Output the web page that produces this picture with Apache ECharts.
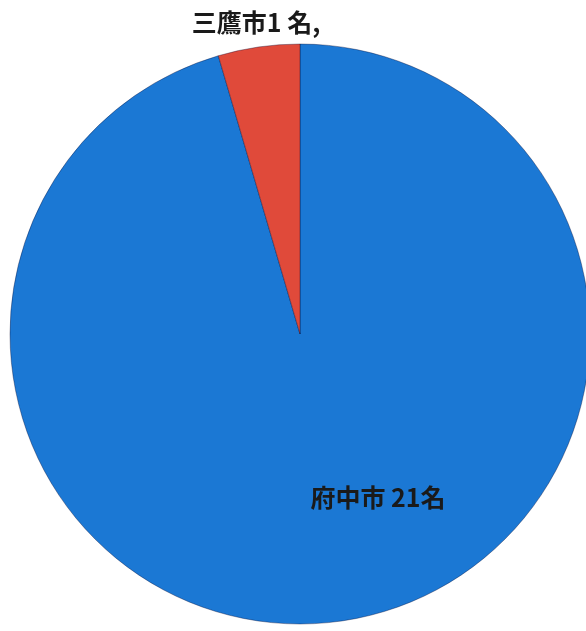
<!DOCTYPE html>
<html>
<head>
<meta charset="utf-8">
<script src="https://cdn.jsdelivr.net/npm/echarts@6/dist/echarts.min.js"></script>
<style>
  html, body { margin: 0; padding: 0; background: #ffffff; }
  #chart { width: 586px; height: 631px; }
</style>
</head>
<body>
<div id="chart"></div>
<script>
// Number of people by city
const cities = ['府中市', '三鷹市'];
const counts = [21, 1];
const labelTexts = ['府中市 21名', '三鷹市1 名,'];
const sliceColors = ['#1b78d4', '#e04a3a'];

const chart = echarts.init(document.getElementById('chart'));

// where each label sits (pixels in the chart)
const labelSpots = [
  { x: 378, y: 497 },
  { x: 256, y: 22 }
];

chart.setOption({
  animation: false,
  series: [{
    type: 'pie',
    center: [300, 334],
    radius: 290,
    startAngle: 90,
    clockwise: true,
    silent: true,
    data: cities.map((c, i) => ({
      name: c,
      value: counts[i],
      itemStyle: { color: sliceColors[i] }
    })),
    itemStyle: {
      borderColor: 'rgba(0,0,40,0.35)',
      borderWidth: 1
    },
    label: {
      show: true,
      position: 'outside',
      formatter: p => labelTexts[p.dataIndex],
      fontFamily: '"Noto Sans CJK JP", "Noto Sans", sans-serif',
      fontSize: 25,
      fontWeight: 'bold',
      color: '#1a1a1a'
    },
    labelLine: { show: false },
    labelLayout: p => ({
      x: labelSpots[p.dataIndex].x,
      y: labelSpots[p.dataIndex].y,
      align: 'center',
      verticalAlign: 'middle'
    })
  }]
});
</script>
</body>
</html>
